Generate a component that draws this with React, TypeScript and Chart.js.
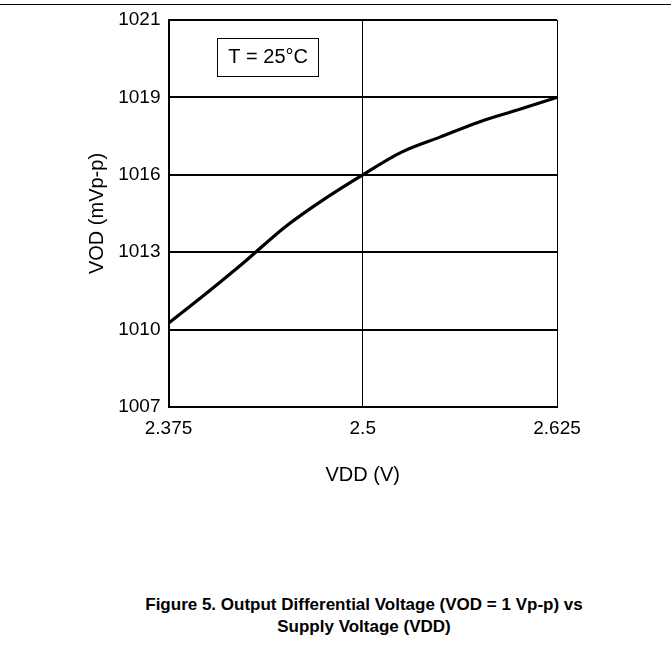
import React, { useEffect, useRef } from "react";
import { Chart, registerables } from "chart.js";

Chart.register(...registerables);

// Supply voltage VDD (V)
const vddValues = [2.375, 2.4, 2.425, 2.45, 2.475, 2.5, 2.525, 2.55, 2.575, 2.6, 2.625];
// Output differential voltage VOD (mVp-p)
const vodValues = [1010.25, 1011.44, 1012.68, 1013.98, 1015.05, 1016.0, 1016.88, 1017.47, 1018.05, 1018.52, 1019.0];

const xTickValues = [2.375, 2.5, 2.625];
const xTickLabels = ["2.375", "2.5", "2.625"];
const yTickValues = [1007, 1010, 1013, 1016, 1019, 1022];
const yTickLabels = ["1007", "1010", "1013", "1016", "1019", "1021"];

const annotationText = "T = 25°C";
const annotationBox = { xMin: 2.4065, xMax: 2.4717, yMin: 1019.83, yMax: 1021.31 };

const captionLines = [
  "Figure 5. Output Differential Voltage (VOD = 1 Vp-p) vs",
  "Supply Voltage (VDD)",
];

const FONT = "'Liberation Sans', Arial, Helvetica, sans-serif";

const annotationPlugin = {
  id: "tempBox",
  afterDatasetsDraw(chart: any) {
    const { ctx, scales } = chart;
    const x1 = scales.x.getPixelForValue(annotationBox.xMin);
    const x2 = scales.x.getPixelForValue(annotationBox.xMax);
    const y1 = scales.y.getPixelForValue(annotationBox.yMax);
    const y2 = scales.y.getPixelForValue(annotationBox.yMin);
    ctx.save();
    ctx.fillStyle = "#fff";
    ctx.fillRect(x1, y1, x2 - x1, y2 - y1);
    ctx.strokeStyle = "#000";
    ctx.lineWidth = 1;
    ctx.strokeRect(Math.round(x1) + 0.5, Math.round(y1) + 0.5, Math.round(x2 - x1), Math.round(y2 - y1));
    ctx.fillStyle = "#000";
    ctx.font = `20px ${FONT}`;
    ctx.textAlign = "center";
    ctx.textBaseline = "middle";
    ctx.fillText(annotationText, (x1 + x2) / 2, (y1 + y2) / 2 + 1);
    ctx.restore();
  },
};

export default function App() {
  const canvasRef = useRef<HTMLCanvasElement | null>(null);

  useEffect(() => {
    if (!canvasRef.current) return;
    const chart = new Chart(canvasRef.current, {
      type: "line",
      data: {
        datasets: [
          {
            data: vddValues.map((v, i) => ({ x: v, y: vodValues[i] })),
            borderColor: "#000",
            borderWidth: 3.2,
            pointRadius: 0,
            cubicInterpolationMode: "monotone",
            fill: false,
          },
        ],
      },
      options: {
        animation: false,
        responsive: false,
        maintainAspectRatio: false,
        layout: { padding: { left: 85, right: 114, top: 20, bottom: 13 } },
        plugins: { legend: { display: false }, tooltip: { enabled: false }, title: { display: false } },
        scales: {
          x: {
            type: "linear",
            min: 2.375,
            max: 2.625,
            afterBuildTicks: (axis: any) => {
              axis.ticks = xTickValues.map((v) => ({ value: v }));
            },
            afterFit: (axis: any) => {
              axis.height = 80;
            },
            ticks: {
              color: "#000",
              font: { family: FONT, size: 19 },
              padding: 10,
              maxRotation: 0,
              autoSkip: false,
              callback: (v: any) => {
                const i = xTickValues.findIndex((t) => Math.abs(t - Number(v)) < 1e-9);
                return i >= 0 ? xTickLabels[i] : "";
              },
            },
            grid: {
              color: "#000",
              lineWidth: 1,
              drawTicks: false,
            },
            border: { color: "#000", width: 2 },
            title: {
              display: true,
              text: "VDD (V)",
              color: "#000",
              font: { family: FONT, size: 20 },
              padding: { top: 0, bottom: 0 },
            },
          },
          y: {
            type: "linear",
            min: 1007,
            max: 1022,
            afterBuildTicks: (axis: any) => {
              axis.ticks = yTickValues.map((v) => ({ value: v }));
            },
            afterFit: (axis: any) => {
              axis.width = 83.5;
            },
            ticks: {
              color: "#000",
              font: { family: FONT, size: 19 },
              padding: 8,
              autoSkip: false,
              callback: (v: any) => {
                const i = yTickValues.indexOf(Number(v));
                return i >= 0 ? yTickLabels[i] : "";
              },
            },
            grid: {
              color: "#000",
              lineWidth: 2,
              drawTicks: false,
            },
            border: { color: "#000", width: 2 },
            title: {
              display: true,
              text: "VOD (mVp-p)",
              color: "#000",
              font: { family: FONT, size: 20 },
              padding: 0,
            },
          },
        },
      },
      plugins: [annotationPlugin],
    });
    return () => chart.destroy();
  }, []);

  return (
    <div style={{ position: "absolute", left: 0, top: 0, width: 671, height: 666, background: "#fff", overflow: "hidden" }}>
      <div style={{ position: "absolute", left: 0, top: 4, width: 671, height: 1, background: "#000" }} />
      <canvas ref={canvasRef} width={671} height={500} style={{ position: "absolute", left: 0, top: 0, width: 671, height: 500 }} />
      <div
        style={{
          position: "absolute",
          left: 0,
          top: 594,
          width: 728,
          textAlign: "center",
          fontFamily: FONT,
          fontWeight: "bold",
          fontSize: 17,
          lineHeight: "22px",
          color: "#000",
        }}
      >
        {captionLines.map((l, i) => (
          <div key={i}>{l}</div>
        ))}
      </div>
    </div>
  );
}
